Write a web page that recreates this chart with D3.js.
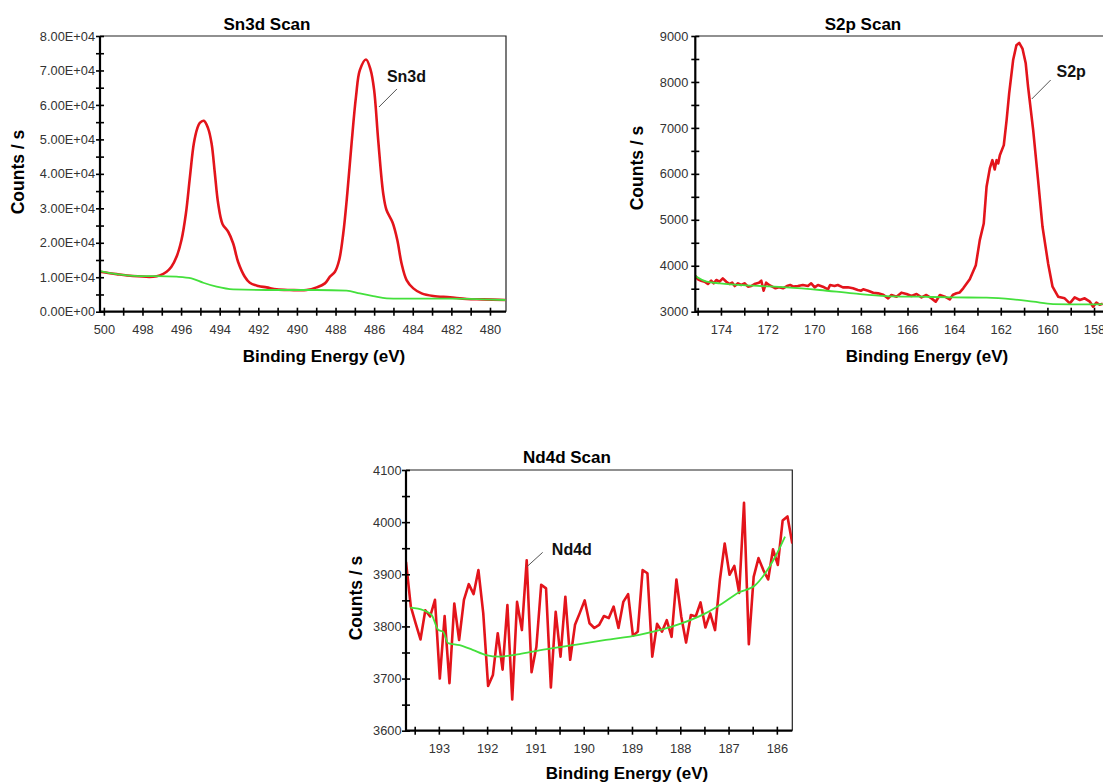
<!DOCTYPE html>
<html><head><meta charset="utf-8">
<script src="https://cdn.jsdelivr.net/npm/d3@7"></script>
<style>body{margin:0;background:#fff}svg{display:block;font-family:"Liberation Sans",Arial,sans-serif}</style>
</head><body><svg id="c" width="1103" height="783"></svg>
<script>
// ---------- Sn3d ----------
const sn3dEnergy = [500.2,499.34,498.5,497.45,497.1,496.75,496.5,496.23,495.98,495.75,495.54,495.34,495.16,495.03,494.82,494.6,494.42,494.25,494.08,493.85,493.56,493.3,493.05,492.7,492.44,492.0,491.57,491.05,490.36,489.5,488.98,488.55,488.29,488.03,487.81,487.6,487.39,487.17,486.94,486.74,486.42,486.18,486.0,485.79,485.53,485.36,485.04,484.8,484.58,484.32,483.97,483.54,482.94,482.07,481.2,480.35,479.2];
const sn3dCounts = [11600,10900,10350,10150,10540,11600,13050,16000,20800,28500,39200,48800,53200,54800,55400,53200,48800,40100,31400,25400,23200,19800,14500,10150,8400,7450,7060,6480,6300,6300,7060,8220,10150,11600,15000,22700,34300,48800,62400,70100,73200,70100,64300,49800,34300,29500,25800,20800,14000,9190,6770,5320,4550,4160,3670,3580,3390];
const sn3dBgEnergy = [500.2,499.34,498.13,497.27,496.23,495.46,494.85,494.16,493.3,491.57,488.98,487.43,486.74,486.05,485.35,484.66,482.07,480.35,479.2];
const sn3dBgCounts = [11800,10900,10350,10350,10150,9670,8400,7250,6480,6300,6300,6100,5300,4550,3870,3770,3770,3580,3390];
const sn3dXTicks = [500,498,496,494,492,490,488,486,484,482,480];
const sn3dXTickLabels = ["500","498","496","494","492","490","488","486","484","482","480"];
const sn3dYTicks = [0,10000,20000,30000,40000,50000,60000,70000,80000];
const sn3dYTickLabels = ["0.00E+00","1.00E+04","2.00E+04","3.00E+04","4.00E+04","5.00E+04","6.00E+04","7.00E+04","8.00E+04"];

// ---------- S2p ----------
const s2pEnergy = [175.13,174.99,174.85,174.70,174.56,174.42,174.31,174.20,174.06,173.92,173.77,173.63,173.52,173.41,173.27,173.13,172.99,172.84,172.70,172.56,172.37,172.27,172.17,172.06,171.94,171.80,171.66,171.51,171.34,171.17,171.03,170.89,170.70,170.49,170.27,170.13,169.98,169.84,169.63,169.41,169.32,169.13,168.99,168.77,168.56,168.34,168.13,167.99,167.90,167.69,167.47,167.26,167.04,166.83,166.69,166.47,166.26,166.04,165.83,165.61,165.40,165.19,164.97,164.79,164.61,164.40,164.19,164.05,163.90,163.76,163.61,163.33,163.07,162.90,162.73,162.61,162.47,162.36,162.26,162.18,162.11,162.04,161.87,161.75,161.64,161.47,161.33,161.21,161.07,160.93,160.83,160.61,160.40,160.21,159.97,159.78,159.54,159.26,159.04,158.83,158.61,158.40,158.18,158.04,157.90,157.76,157.63];
const s2pCounts = [3799,3705,3675,3653,3603,3675,3618,3690,3653,3726,3653,3603,3632,3559,3618,3581,3618,3545,3559,3603,3632,3675,3457,3632,3581,3545,3509,3530,3509,3559,3581,3545,3559,3581,3559,3618,3530,3581,3545,3487,3581,3559,3581,3530,3530,3509,3472,3457,3486,3457,3414,3399,3370,3290,3363,3326,3414,3385,3341,3385,3312,3363,3290,3218,3363,3326,3268,3370,3400,3420,3509,3705,4013,4557,4920,5718,6117,6298,6095,6298,6225,6407,6625,7169,7749,8477,8800,8850,8727,8405,7896,6950,5862,4848,4051,3545,3327,3291,3182,3313,3255,3291,3218,3109,3200,3150,3172];
const s2pBgEnergy = [175.1,174.61,174.04,172.61,171.19,169.76,168.33,166.9,165.47,164.04,162.61,161.47,160.61,159.76,158.33,157.63];
const s2pBgCounts = [3776,3653,3617,3566,3530,3472,3399,3341,3326,3312,3305,3268,3218,3167,3160,3167];
const s2pXTicks = [174,172,170,168,166,164,162,160,158];
const s2pXTickLabels = ["174","172","170","168","166","164","162","160","158"];
const s2pYTicks = [3000,4000,5000,6000,7000,8000,9000];
const s2pYTickLabels = ["3000","4000","5000","6000","7000","8000","9000"];

// ---------- Nd4d ----------
const nd4dEnergy = [193.68,193.58,193.48,193.38,193.28,193.18,193.08,192.98,192.88,192.78,192.68,192.58,192.48,192.38,192.28,192.18,192.08,191.98,191.88,191.78,191.68,191.58,191.48,191.38,191.28,191.18,191.08,190.98,190.88,190.78,190.68,190.58,190.48,190.38,190.28,190.18,190.08,189.98,189.88,189.78,189.68,189.58,189.48,189.38,189.28,189.18,189.08,188.98,188.88,188.78,188.68,188.58,188.48,188.38,188.28,188.18,188.08,187.98,187.88,187.78,187.68,187.58,187.48,187.38,187.28,187.18,187.08,186.98,186.88,186.78,186.68,186.58,186.48,186.38,186.28,186.18,186.08,185.98,185.88,185.78,185.68];
const nd4dCounts = [3924,3838,3806,3775,3831,3819,3851,3700,3820,3691,3844,3774,3851,3881,3862,3908,3825,3686,3707,3787,3717,3841,3660,3847,3793,3927,3712,3761,3880,3873,3683,3828,3742,3857,3736,3803,3826,3850,3806,3797,3803,3820,3816,3838,3797,3847,3862,3782,3790,3908,3902,3742,3805,3790,3812,3780,3890,3819,3769,3822,3819,3846,3798,3825,3793,3889,3959,3899,3916,3864,4037,3766,3895,3931,3908,3890,3948,3918,4003,4011,3959];
const nd4dBgEnergy = [193.59,193.32,193.15,193.01,192.91,192.81,192.57,192.30,192.02,191.75,191.33,190.92,190.23,189.54,188.85,188.16,187.48,187.13,186.79,186.45,186.24,186.03,185.83];
const nd4dBgCounts = [3836,3831,3822,3793,3790,3768,3764,3755,3745,3742,3747,3754,3764,3774,3784,3800,3825,3844,3865,3879,3902,3934,3972];
const nd4dXTicks = [193,192,191,190,189,188,187,186];
const nd4dXTickLabels = ["193","192","191","190","189","188","187","186"];
const nd4dYTicks = [3600,3700,3800,3900,4000,4100];
const nd4dYTickLabels = ["3600","3700","3800","3900","4000","4100"];

const RED = "#e3141b", GREEN = "#44e03c";
const svg = d3.select("#c");

function panel(o){
  const g = svg.append("g");
  const x = d3.scaleLinear().domain(o.xDomain).range([o.left, o.right]);
  const y = d3.scaleLinear().domain(o.yDomain).range([o.bottom, o.top]);
  svg.append("clipPath").attr("id","clip-"+o.name).append("rect")
    .attr("x",o.left).attr("y",o.top).attr("width",o.right-o.left).attr("height",o.bottom-o.top);
  g.append("path").attr("d",`M${o.left},${o.top}H${o.right}V${o.bottom}`)
    .attr("fill","none").attr("stroke","#222").attr("stroke-width",1.2);
  const plot = g.append("g").attr("clip-path",`url(#clip-${o.name})`);
  const line = d3.line().x(d=>x(d[0])).y(d=>y(d[1])).curve(o.curve || d3.curveLinear);
  plot.append("path").datum(d3.zip(o.energy,o.counts)).attr("d",line)
    .attr("fill","none").attr("stroke",RED).attr("stroke-width",2.6).attr("stroke-linejoin","round");
  plot.append("path").datum(d3.zip(o.bgEnergy,o.bgCounts)).attr("d",d3.line().x(d=>x(d[0])).y(d=>y(d[1])).curve(d3.curveMonotoneX))
    .attr("fill","none").attr("stroke",GREEN).attr("stroke-width",1.8);
  const xMin = d3.range(Math.ceil(Math.min(...o.xDomain)/o.xMinor)*o.xMinor, Math.max(...o.xDomain)+1e-9, o.xMinor);
  g.append("g").attr("transform",`translate(0,${o.bottom-4})`)
    .call(d3.axisBottom(x).tickValues(xMin).tickSize(8).tickFormat(""))
    .call(a=>{a.select(".domain").remove(); a.selectAll("line").attr("stroke","#000").attr("stroke-width",1.6);});
  const yMin = d3.range(o.yDomain[0], o.yDomain[1]+1e-9, o.yMinor);
  g.append("g").attr("transform",`translate(${o.left+4},0)`)
    .call(d3.axisLeft(y).tickValues(yMin).tickSize(8).tickFormat(""))
    .call(a=>{a.select(".domain").remove(); a.selectAll("line").attr("stroke","#000").attr("stroke-width",1.6);});
  g.append("g").attr("transform",`translate(0,${o.bottom})`)
    .call(d3.axisBottom(x).tickValues(o.xTicks).tickSize(0).tickPadding(13).tickFormat((d,i)=>o.xTickLabels[i]))
    .call(a=>{a.select(".domain").remove(); a.selectAll("text").attr("font-size",12.8).attr("fill","#333").attr("font-family","Liberation Sans, Arial, sans-serif");});
  g.append("g").attr("transform",`translate(${o.left},0)`)
    .call(d3.axisLeft(y).tickValues(o.yTicks).tickSize(0).tickPadding(o.yPad).tickFormat((d,i)=>o.yTickLabels[i]))
    .call(a=>{a.select(".domain").remove(); a.selectAll("text").attr("font-size",12.8).attr("fill","#333").attr("font-family","Liberation Sans, Arial, sans-serif");});
  g.append("path").attr("d",`M${o.left},${o.top}V${o.bottom}H${o.right}`)
    .attr("fill","none").attr("stroke","#000").attr("stroke-width",2.2);
  g.append("text").attr("x",o.titleX).attr("y",o.titleY).attr("text-anchor","middle")
    .attr("font-weight","bold").attr("font-size",17).text(o.title);
  g.append("text").attr("x",o.xLabelX).attr("y",o.xLabelY).attr("text-anchor","middle")
    .attr("font-weight","bold").attr("font-size",17).text("Binding Energy (eV)");
  g.append("text").attr("transform",`translate(${o.yLabelX},${o.yLabelY}) rotate(-90)`).attr("text-anchor","middle")
    .attr("font-weight","bold").attr("font-size",17.5).text("Counts / s");
  g.append("line").attr("x1",x(o.lead[0])).attr("y1",y(o.lead[1])).attr("x2",x(o.lead[2])).attr("y2",y(o.lead[3]))
    .attr("stroke","#555").attr("stroke-width",1);
  g.append("text").attr("x",x(o.peakLabel[0])).attr("y",y(o.peakLabel[1]))
    .attr("font-weight","bold").attr("font-size",16).attr("fill","#111").text(o.peakName);
}

panel({name:"sn3d", left:100, right:506, top:36, bottom:311.7,
  xDomain:[500.2,479.17], yDomain:[0,80000], xMinor:1, yMinor:5000,
  energy:sn3dEnergy, counts:sn3dCounts, bgEnergy:sn3dBgEnergy, bgCounts:sn3dBgCounts, curve:d3.curveCatmullRom,
  xTicks:sn3dXTicks, xTickLabels:sn3dXTickLabels, yTicks:sn3dYTicks, yTickLabels:sn3dYTickLabels, yPad:5,
  title:"Sn3d Scan", titleX:267, titleY:30, xLabelX:324, xLabelY:362, yLabelX:24, yLabelY:172,
  peakName:"Sn3d", peakLabel:[485.34,66660], lead:[484.82,64630,485.75,59400]});

panel({name:"s2p", left:695.3, right:1112, top:36, bottom:311.7,
  xDomain:[175.1,157.23], yDomain:[3000,9000], xMinor:1, yMinor:500,
  energy:s2pEnergy, counts:s2pCounts, bgEnergy:s2pBgEnergy, bgCounts:s2pBgCounts,
  xTicks:s2pXTicks, xTickLabels:s2pXTickLabels, yTicks:s2pYTicks, yTickLabels:s2pYTickLabels, yPad:7,
  title:"S2p Scan", titleX:863, titleY:30, xLabelX:927, xLabelY:362, yLabelX:643, yLabelY:168,
  peakName:"S2p", peakLabel:[159.61,8107], lead:[159.86,8042,160.67,7629]});

panel({name:"nd4d", left:406, right:792.3, top:470, bottom:730.7,
  xDomain:[193.68,185.68], yDomain:[3600,4100], xMinor:0.5, yMinor:50,
  energy:nd4dEnergy, counts:nd4dCounts, bgEnergy:nd4dBgEnergy, bgCounts:nd4dBgCounts,
  xTicks:nd4dXTicks, xTickLabels:nd4dXTickLabels, yTicks:nd4dYTicks, yTickLabels:nd4dYTickLabels, yPad:4.5,
  title:"Nd4d Scan", titleX:567, titleY:463, xLabelX:627, xLabelY:779, yLabelX:362, yLabelY:598,
  peakName:"Nd4d", peakLabel:[190.66,3937], lead:[190.85,3942,191.17,3915]});
</script></body></html>
